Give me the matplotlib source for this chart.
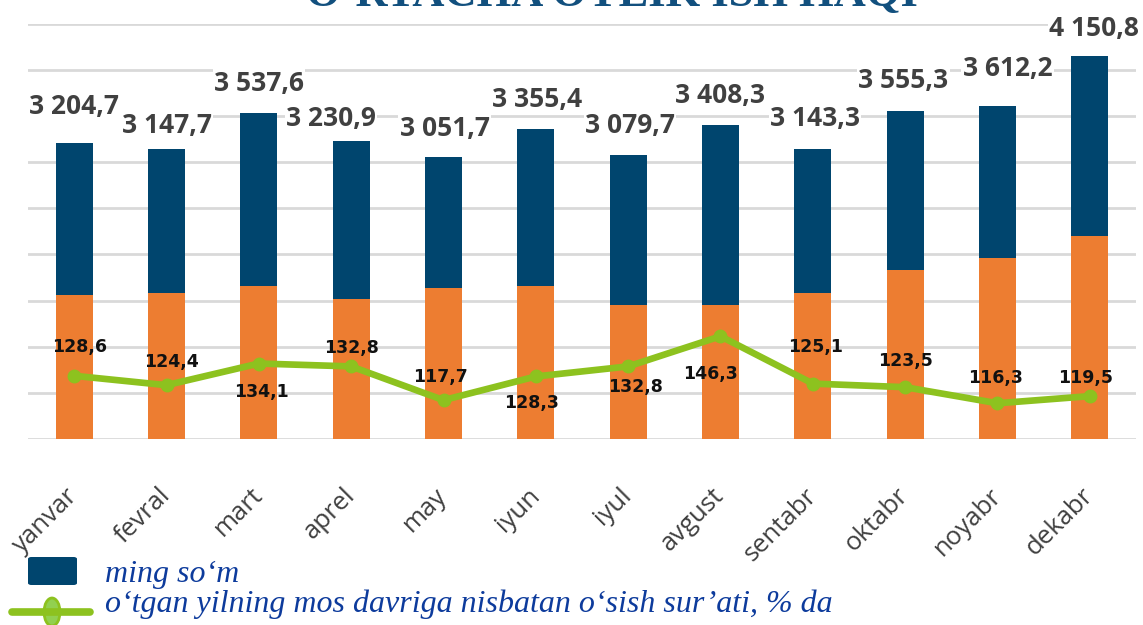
"""O'rtacha oylik ish haqi - monthly average wage chart."""
import matplotlib
matplotlib.use('Agg')
import matplotlib.pyplot as plt
import matplotlib.patches as mpatches
from matplotlib.lines import Line2D
import numpy as np

months = ['yanvar', 'fevral', 'mart', 'aprel', 'may', 'iyun',
          'iyul', 'avgust', 'sentabr', 'oktabr', 'noyabr', 'dekabr']
wage = [3204.7, 3147.7, 3537.6, 3230.9, 3051.7, 3355.4,
        3079.7, 3408.3, 3143.3, 3555.3, 3612.2, 4150.8]
orange_part = [1561, 1582, 1658, 1517, 1637, 1658,
               1452, 1452, 1582, 1832, 1962, 2200]
growth = [128.6, 124.4, 134.1, 132.8, 117.7, 128.3,
          132.8, 146.3, 125.1, 123.5, 116.3, 119.5]

# label offsets in pixels (dx, dy)
bar_lbl_off = [(0, 37), (0, 23), (0, 29), (-20, 22), (1, 29), (1, 30),
               (2, 29), (0, 29), (2, 30), (-2, 30), (10, 37), (4, 28)]
line_lbl_off = [(5, 29), (5, 23), (3, -28), (0, 18), (-3, 23), (-4, -27),
                (7, -21), (-10, -38), (3, 37), (0, 26), (-2, 25), (-4, 18)]

BLUE = '#00456e'
ORANGE = '#ed7d31'
GREEN = '#8dc21f'
GRID = '#d9d9d9'
TXT = '#404040'
LEG = '#0d3b9c'

def fmt(v):
    s = f"{v:,.1f}".replace(',', ' ').replace('.', ',')
    return s

W, H = 1143, 625
fig = plt.figure(figsize=(W / 100, H / 100), dpi=100)
ax = fig.add_axes([28 / W, (H - 439) / H, 1108 / W, (439 - 23.8) / H])
x = np.arange(len(months))

ax.bar(x, wage, width=0.40, color=BLUE, zorder=2, clip_on=False)
ax.bar(x, orange_part, width=0.40, color=ORANGE, zorder=3)
ax.set_xlim(-0.5, len(months) - 0.5)
ax.set_ylim(0, 4500)
ax.set_yticks(np.arange(0, 4501, 500))
ax.yaxis.grid(True, color=GRID, lw=2, zorder=0)
ax.set_axisbelow(True)
for s in ax.spines.values():
    s.set_visible(False)
ax.set_xticks(x)
ax.set_xticklabels(months, rotation=45, ha='right', va='center',
                   rotation_mode='anchor', fontsize=18.5, color=TXT,
                   family='Open Sans')

for i, v in enumerate(wage):
    dx, dy = bar_lbl_off[i]
    ax.annotate(fmt(v), (x[i], v), xytext=(dx, dy), textcoords='offset pixels',
                ha='center', va='center', fontsize=19, fontweight='bold',
                color=TXT, family='Open Sans', zorder=6,
                bbox=dict(boxstyle='square,pad=0.05', fc='white', ec='none'))

ax2 = ax.twinx()
ax2.set_ylim(100.3, 286.2)
ax2.axis('off')
ax2.plot(x, growth, color=GREEN, lw=4.8, marker='o', ms=9, zorder=4,
         solid_capstyle='round')
for i, v in enumerate(growth):
    dx, dy = line_lbl_off[i]
    ax2.annotate(f"{v:.1f}".replace('.', ','), (x[i], v), xytext=(dx, dy),
                 textcoords='offset pixels', ha='center', va='center',
                 fontsize=12.5, fontweight='bold', color='#111111',
                 family='DejaVu Sans', zorder=6)

# twinx turns the left ticks back on, so switch them off here
ax.tick_params(axis='y', left=False, right=False, labelleft=False)
ax.tick_params(axis='x', length=0, pad=38)

# title (cut at top edge of the image, as in the source)
fig.text(612 / W, 1 - 6 / H, "O‘RTACHA OYLIK ISH HAQI", ha='center',
         va='baseline', fontsize=32, fontweight='bold', color='#12507e',
         family='Liberation Serif')

# legend drawn by hand
fig.patches.append(mpatches.FancyBboxPatch(
    (28 / W, (H - 585) / H), 49 / W, 28 / H,
    boxstyle='round,pad=0,rounding_size=0.003', fc=BLUE, ec='none',
    transform=fig.transFigure, figure=fig))
fig.text(105 / W, (H - 582) / H, "ming so‘m", ha='left', va='baseline',
         fontsize=23, style='italic', color=LEG, family='Liberation Serif')
fig.lines.append(Line2D([12 / W, 90 / W], [(H - 612) / H] * 2, color=GREEN,
                        lw=5.5, solid_capstyle='round',
                        transform=fig.transFigure, figure=fig))
fig.patches.append(mpatches.Ellipse(
    (52 / W, (H - 612) / H), 16 / W, 28 / H, fc='#92d050', ec=GREEN, lw=2,
    transform=fig.transFigure, figure=fig))
fig.text(105 / W, (H - 612) / H,
         "o‘tgan yilning mos davriga nisbatan o‘sish sur’ati, % da",
         ha='left', va='baseline', fontsize=23, style='italic', color=LEG,
         family='Liberation Serif')

plt.savefig('out.png', dpi=100)
plt.close()
